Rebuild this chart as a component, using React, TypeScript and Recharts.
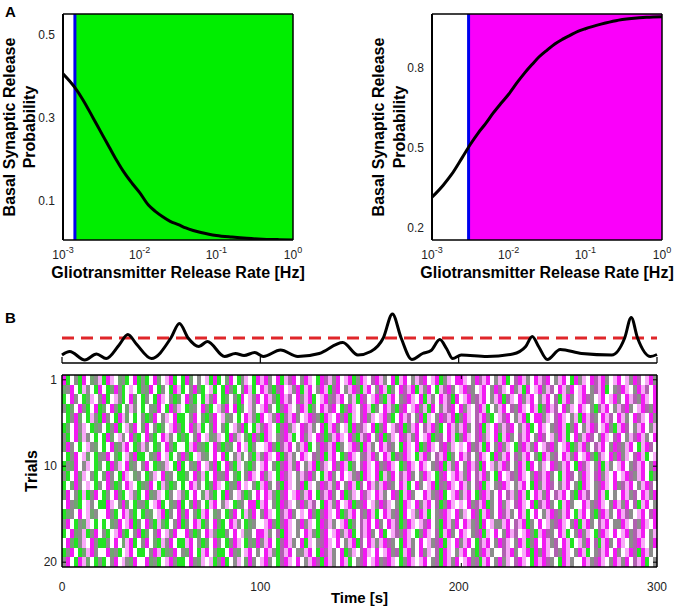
import React from 'react';
import {
  LineChart,
  Line,
  BarChart,
  Bar,
  Cell,
  XAxis,
  YAxis,
  ReferenceArea,
  ReferenceLine,
  Label,
} from 'recharts';

const FONT = '"Liberation Sans", Arial, Helvetica, sans-serif';

// ---- panel A : release probability vs gliotransmitter release rate
const rates = [
  0.001, 0.0014, 0.0018, 0.0025, 0.0032, 0.004, 0.005, 0.0063, 0.008, 0.01, 0.013, 0.016, 0.02,
  0.025, 0.032, 0.04, 0.05, 0.063, 0.08, 0.1, 0.16, 0.25, 0.4, 0.63, 1,
];
const depressProb = [
  0.406, 0.375, 0.345, 0.298, 0.262, 0.23, 0.198, 0.168, 0.142, 0.12, 0.09, 0.075, 0.062,
  0.051, 0.043, 0.035, 0.029, 0.024, 0.02, 0.017, 0.013, 0.01, 0.008, 0.007, 0.006,
];
const facilProb = [
  0.315, 0.36, 0.4, 0.465, 0.515, 0.555, 0.59, 0.63, 0.667, 0.7, 0.745, 0.778, 0.81,
  0.84, 0.866, 0.888, 0.905, 0.92, 0.935, 0.945, 0.962, 0.975, 0.983, 0.988, 0.99,
];
const depressThreshold = 0.00143;
const facilThreshold = 0.003;
const rateTicks = [0.001, 0.01, 0.1, 1];
const depressTicks = [0.1, 0.3, 0.5];
const facilTicks = [0.2, 0.5, 0.8];

// ---- panel B : population trace above the raster
const traceTime = [
  0, 3.9, 11.5, 17.4, 22.3, 28.8, 33.2, 37.5, 45.1, 54.9, 59.2, 63.6, 69, 73.3, 82, 87.4, 91.8,
  97.2, 101.5, 110.2, 118.9, 129.7, 141.6, 149.2, 155.7, 162, 166.6, 171, 176.4, 181.8, 186.1,
  190.5, 194, 197, 201.3, 214.3, 227.3, 233.8, 237.1, 240.3, 244.7, 251.2, 262, 277.2, 283.7,
  287, 290.2, 296.7, 300,
];
const traceValue = [
  0.16, 0.23, 0.06, 0.18, 0.09, 0.36, 0.57, 0.38, 0.09, 0.5, 0.79, 0.5, 0.33, 0.43, 0.13, 0.19, 0.15,
  0.21, 0.13, 0.26, 0.13, 0.19, 0.41, 0.16, 0.23, 0.5, 0.98, 0.5, 0.07, 0.19, 0.25,
  0.47, 0.28, 0.09, 0.16, 0.13, 0.18, 0.33, 0.53, 0.33, 0.07, 0.27, 0.19, 0.16, 0.5,
  0.91, 0.5, 0.13, 0.17,
];
const traceThreshold = 0.5;
const timeTicks = [0, 100, 200, 300];
const innerTimeTicks = [100, 200];
const trialTicks = [1, 10, 20];
const binSeconds = 2;

// one string per trial, one letter per 2 s bin
// g green, G grey-green, k grey, m magenta, p pink, d purple, w white
const rasterRows = [
  ['mgwkgmwGkp', 'gmpwGkgwmg', 'kgwmGwpmgw', 'gmGwkwpgmg', 'wGmwgkpwgm', 'pmkwmgpdmw', 'kmpwgmdpkm', 'wpmgkmpwdm', 'pkwmgpmwkp', 'dmwpmgkpwm', 'mpwkmdpmwk', 'pmgwdmpkwm', 'pdmwkpmwgm', 'kpwmdpmkwp', 'mwpkmdwpmk'],
  ['Gkmwgpkwgm', 'wgGmkgwpwg', 'kGmwgkwgmp', 'gwkmGgwpgw', 'gmkgwGmpgw', 'mpkgdmwpkm', 'gpmwkmpgdm', 'wkpmdgpmwk', 'mpgkwmdpmg', 'pkmwgpdmkw', 'pmdkwpmwkm', 'dpwmkpgmwp', 'mkpdwmpkmw', 'pmwkdpmgwk', 'dmpwkmpdwm'],
  ['gwmkwgGpwk', 'mgwpkgwmGw', 'gkwgmpwkgG', 'wmkgwgpkmw', 'gGwkgmwpkm', 'wmpkgmpdwm', 'kpmgwpmkdp', 'mwkpgmdwpm', 'kgpmwkdmpw', 'mgpkwmpdgm', 'wpmkdpmwkp', 'mgdpwmkpmw', 'kpmwdgpmkw', 'pmdkwpmwpm', 'kwmpdkmpwm'],
  ['kgGwmkgwmg', 'GwmkgwGpkw', 'gwkGmwgmkp', 'wgGkwmkgwp', 'kmwmgGwpkw', 'pmkwgdmpwk', 'mpgkwmpdmw', 'gkmpwdmpgk', 'wmpkgdmwpm', 'kpgmwkpdmw', 'mkpwdmpgwk', 'pmwdkmpwmp', 'gkmpdwmkpw', 'mpwkgdpmwk', 'pdmkwpmdkm'],
  ['wgkmGwgpkg', 'mkwgmpGwgw', 'kgGmwkpwmg', 'gwkmwGgkmw', 'pGkwgwmpkg', 'mwpkmgdpmk', 'wpmdkgmpwm', 'kmgpwdmkpw', 'pmkgwmpdwk', 'mgpwkmdpmg', 'kmpwdpmkgw', 'pdmwkpmgwm', 'mkpwdmpwkp', 'gmpdkwmpdw', 'mpkwmdpwmk'],
  ['gGwmkpwgGk', 'wgkmgwpkmw', 'GmwkgGwpmk', 'gwmkpgwGmw', 'kgwpkmgwgp', 'kmpwgdmkpw', 'mdpkwmgpmk', 'wpgmkdpwmg', 'kmwpdmgkpm', 'wdpmkgwmpk', 'pmkwdmgpwm', 'kpdmwkpmgw', 'mpwkdmpgkm', 'wkpmdwpmkg', 'pmdwkpmwkp'],
  ['kgwmGpkwgw', 'gmGwpkwmGg', 'wmkgwmpkwg', 'GgwkmwpGkp', 'wgmkpwGgmk', 'gmpwkdmpgw', 'mkpwmdgkpm', 'pwmkgpdmwk', 'mgkpwmdpkm', 'wpmgkdwmpg', 'kmpwdmkpwm', 'gpmkwdpmwk', 'mdwpkmpgwm', 'kpmdwkmpwd', 'mwkpdmpkwm'],
  ['GmkwgwpkGw', 'gwmGkpmwgk', 'pkwgGwmkgw', 'wgpmkGgwmk', 'gkGwmwpgkw', 'wpmkgdpmwk', 'pmgwkmdpmg', 'kwpmdgmpkw', 'mpdkwgmpwm', 'gkmpwdmkpw', 'pwmkdpgmwk', 'mkpwgdmpkm', 'wpdmkwpmgk', 'pmkwdpmwkm', 'dkpmwgpmdw'],
  ['wgkmwpGwgk', 'kmwGgwpkmg', 'gwGkmwpgwk', 'mkgwpkGwmw', 'mgwkpGwkgp', 'kmpwmgdpkw', 'mpwdkmgpmw', 'gkmpwkdpmk', 'wmpgdkmpwg', 'pmkwdpmgkw', 'mpdwkmpwgm', 'kpmwdkpmwk', 'gmpkdwmpkm', 'wpmkgdpwmk', 'mkpwdmpgwp'],
  ['gkGmwkpwgG', 'wgmkpwmGkw', 'kmwgGkpwgm', 'gwkGmwpkmg', 'wmkgpwGgkw', 'pmwkgdmpkm', 'wkpmgdpwmk', 'mpgkwdmpwm', 'kdmpwgkmpw', 'mpwkdmgpkm', 'wkmpdgmwpk', 'pmdwkmpgmw', 'kpwmdkpmwg', 'mdpwkmgpkw', 'pmwkdpmwkm'],
  ['kgwmGpwkgw', 'GmkwgmpwGk', 'wgkpwmGkwg', 'gGwmkpgwmk', 'kmwGgwkmpw', 'mkpwgmdpwk', 'pdmkwgpmkw', 'mwpkdgmpwm', 'gpkmwdpmkw', 'kmpwgdmwpm', 'pkmwdpmkwg', 'mwpdkmpwkm', 'dpmkwgpmdw', 'kmpwdmkpwm', 'wpmdkpmwgk'],
  ['gwGmkwpwgk', 'wmkgGwmpwg', 'GkmwgpkgGw', 'gwmpkwgGmp', 'wgkGmwpwkg', 'pmkwdgmpwk', 'mgpwkmdpkm', 'wkmpgdwmpk', 'pmdkwmpgwm', 'kwpmgdkmpw', 'mpkwdmgpwk', 'dmpwkpmwgm', 'kpmdwkpmwk', 'gmpwkdmpwm', 'kdpmwkpmdw'],
  ['Gmwkgpgkmw', 'gkwmGgwpkg', 'wmGkpwgkwp', 'kgwmwGpkgw', 'gmkwpkgGwm', 'wmpkgdmwpm', 'kpmwgdpmkw', 'mgkpwmdpwm', 'pkwmdgpmkw', 'wmpkdmgwpm', 'kpmwgdmpkw', 'mwdpkmpgwm', 'pkmwdpmwkg', 'mpdwkmpgwk', 'wmpkdwmpkm'],
  ['wmkGgwpkwg', 'gmpwkmGwgk', 'kgwpmgwGkm', 'gwGmkwgpmw', 'kpwgGkwmmg', 'pmwkgmdpwk', 'mkpdwgmpkm', 'wpmgkdmwpk', 'mdpwkgmpwm', 'kpmwdgkmpw', 'pwmkdpmgkw', 'mkpwdmpwmg', 'dpmkwgpmkw', 'wmpkdmpwkm', 'pkmwdgpmwk'],
  ['gGkwmwpGkw', 'wmkgwmpkgw', 'gkGwpmgkwm', 'GmwkgpmwGk', 'wgkmwgpkmw', 'kmpwgdpmkw', 'pwmkgdmpwm', 'gkpmwdkmpg', 'wmpkdgmwpk', 'mpgwkdmpwm', 'kpwmdgpmkw', 'mdpkwmpgwm', 'wkpmdkpmwg', 'pmwkgdmpkw', 'mpdkwpmwdm'],
  ['kmwgkGpwgw', 'gwGkmwpmgk', 'wmkgpGgwkm', 'gkwmpgkwmG', 'gwmpkwgGkw', 'wpmkgdmpwk', 'mkpwgmdpkw', 'pmgkwdpmwm', 'kwmpdgkmpw', 'pdmwkgmpkm', 'wmpkdgmwpk', 'kpmwdpmgkw', 'mwpkdmpwkm', 'gpmkwdpmwk', 'kmpwdkmpwm'],
  ['gwmGkpgkmw', 'kgwpmGgwkm', 'gGwkmwpkmw', 'wmkgGwmpkg', 'gkwmwpGkwm', 'mpkwdgmpwk', 'wmpkgdmwpm', 'kpmgwdpmkw', 'mgwpdkmpwg', 'kmpwdgpmkw', 'mpwkdmgpwm', 'wkmpdwpmkg', 'pmdkwmpgwk', 'mkpwgdmpwm', 'wpmkdpmwkp'],
  ['wmGgkpwmkg', 'gkwmwGpmgw', 'kmwGgpkmwg', 'gpmwkgGwmk', 'wgkmpwgkGm', 'kpmwgdmpkw', 'mgpwkdmpwm', 'wkpmgdwmpk', 'pmdkwgmpkw', 'mwpkdmgpwm', 'kpmwgdpmwk', 'mdpwkmpgkm', 'wmpkdwmpgw', 'pkmwdgpmkw', 'mpwkdmpwkm'],
  ['gkmwgGpmkw', 'wmGkgwpmwg', 'gwkmpgGkmw', 'kGmwgpmwkg', 'gwmkGwpmwk', 'wmpkgdpmwk', 'kpmwgmdpkw', 'mgkpwdmpwm', 'wpmkdgpmkw', 'mkpwdgmpwk', 'pmwkgdmpkw', 'wdpmkwpmgm', 'kmpwdkmpwk', 'mpgwkdpmwm', 'kwpmdgmpkw'],
  ['kmwgmpGwgk', 'gwkmwpkGmw', 'wmGkgwpmkg', 'gwmkGpwpgk', 'mgwkpwGmkw', 'pmkwgdmpwm', 'wkpmdgmpkw', 'mpgwkdmwpm', 'kdmpwgkmpw', 'pmwkdgmpkm', 'wpmkdgpmwk', 'mkpwdmpwgm', 'pmdkwgmpkw', 'wmpkdmpwkm', 'pkmwdpmgwk'],
].map((groups) => groups.join(''));

const palette: Record<string, string> = {
  g: '#22e422',
  G: '#6fa66f',
  k: '#8c8c8c',
  m: '#f21af2',
  p: '#f8a8f8',
  d: '#b060b0',
  w: '#ffffff',
};

const depressData = rates.map((r, i) => ({ rate: r, p: depressProb[i] }));
const facilData = rates.map((r, i) => ({ rate: r, p: facilProb[i] }));
const traceData = traceTime.map((t, i) => ({ t, v: traceValue[i] }));
const nBins = rasterRows[0].length;
const rasterData = Array.from({ length: nBins }, (_, j) => {
  const entry: Record<string, number> = { t: j * binSeconds + binSeconds / 2, base: 0.5 };
  rasterRows.forEach((_, i) => {
    entry[`r${i}`] = 1;
  });
  return entry;
});

const tickStyle = { fontSize: 12, fill: '#222', fontFamily: FONT };
const boldText = { fontFamily: FONT, fontWeight: 700, fill: '#000' } as const;
const frameLine = { stroke: '#000', strokeWidth: 1.5 };

// tick marks without labels
const NoLabel = () => null;

const PowTick = (props: any) => {
  const { x, y, payload } = props;
  const exp = Math.round(Math.log10(payload.value));
  return (
    <text x={x} y={y + 19} textAnchor="middle" fontSize={12} fill="#222" fontFamily={FONT}>
      <tspan>10</tspan>
      <tspan dy={-6} fontSize={9}>{exp}</tspan>
    </text>
  );
};

const rateLabel = (baseline: number) => (props: any) => {
  const vb = props.viewBox || {};
  const cx = vb.x + vb.width / 2;
  return (
    <text x={cx} y={baseline} textAnchor="middle" fontSize={16} {...boldText}>
      Gliotransmitter Release Rate [Hz]
    </text>
  );
};

const probLabel = (x1: number, x2: number) => (props: any) => {
  const vb = props.viewBox || {};
  const cy = vb.height ? vb.y + vb.height / 2 : 127;
  return (
    <g>
      <text transform={`translate(${x1},${cy}) rotate(-90)`} textAnchor="middle" fontSize={16} {...boldText}>
        Basal Synaptic Release
      </text>
      <text transform={`translate(${x2},${cy}) rotate(-90)`} textAnchor="middle" fontSize={16} {...boldText}>
        Probability
      </text>
    </g>
  );
};

const ProbPanel = ({ data, threshold, fill, domain, ticks, yWidth, width, labelX }: any) => (
  <LineChart
    width={width}
    height={290}
    data={data}
    margin={{ top: 14, right: width - yWidth - 230, bottom: 0, left: 0 }}
  >
    <XAxis
      dataKey="rate"
      type="number"
      scale="log"
      domain={[0.001, 1]}
      ticks={rateTicks}
      allowDataOverflow
      tickLine={false}
      tickSize={0}
      tickMargin={0}
      height={50}
      axisLine={frameLine}
      tick={<PowTick />}
    >
      <Label content={rateLabel(278)} />
    </XAxis>
    <XAxis
      xAxisId="top"
      orientation="top"
      mirror
      height={1}
      type="number"
      scale="log"
      domain={[0.001, 1]}
      ticks={rateTicks}
      allowDataOverflow
      tick={false}
      tickLine={false}
      axisLine={frameLine}
    />
    <YAxis
      type="number"
      domain={domain}
      ticks={ticks}
      allowDataOverflow
      width={yWidth}
      tickLine={false}
      tickSize={0}
      tickMargin={8}
      axisLine={{ stroke: '#000', strokeWidth: 2 }}
      tick={tickStyle}
      tickFormatter={(v: number) => v.toFixed(1)}
    >
      <Label content={probLabel(labelX[0], labelX[1])} />
    </YAxis>
    <YAxis
      yAxisId="right"
      orientation="right"
      mirror
      width={1}
      type="number"
      domain={domain}
      ticks={ticks}
      allowDataOverflow
      tick={false}
      tickLine={false}
      axisLine={frameLine}
    />
    <ReferenceArea x1={threshold} x2={1} y1={domain[0]} y2={domain[1]} fill={fill} fillOpacity={1} stroke="none" />
    <ReferenceLine x={threshold} stroke="#0000ee" strokeWidth={3} />
    <Line dataKey="p" type="monotone" stroke="#000" strokeWidth={3} dot={false} isAnimationActive={false} />
  </LineChart>
);

const TraceChart = () => (
  <LineChart width={679} height={70} data={traceData} margin={{ top: 13, right: 22, bottom: 7, left: 62 }}>
    <XAxis
      dataKey="t"
      type="number"
      domain={[0, 300]}
      ticks={timeTicks}
      mirror
      height={1}
      tick={<NoLabel />}
      tickSize={6}
      tickLine={{ stroke: '#000', strokeWidth: 1.2 }}
      axisLine={frameLine}
    />
    <YAxis hide type="number" domain={[0, 1]} />
    <ReferenceLine y={traceThreshold} stroke="#e0262a" strokeWidth={3} strokeDasharray="12 7" />
    <Line dataKey="v" type="monotone" stroke="#000" strokeWidth={3} dot={false} isAnimationActive={false} />
  </LineChart>
);

const timeLabel = (props: any) => {
  const vb = props.viewBox || {};
  return (
    <text x={vb.x + vb.width / 2} y={233} textAnchor="middle" fontSize={15} {...boldText}>
      Time [s]
    </text>
  );
};

const trialsLabel = (props: any) => {
  const vb = props.viewBox || {};
  const cy = vb.height ? vb.y + vb.height / 2 : 101;
  return (
    <text transform={`translate(37,${cy}) rotate(-90)`} textAnchor="middle" fontSize={16} {...boldText}>
      Trials
    </text>
  );
};

const innerX = (id: string, orientation: 'top' | 'bottom') => (
  <XAxis
    xAxisId={id}
    orientation={orientation}
    mirror
    height={1}
    type="number"
    domain={[0, 300]}
    allowDataOverflow
    ticks={innerTimeTicks}
    tick={<NoLabel />}
    tickSize={4}
    tickLine={{ stroke: '#000' }}
    axisLine={frameLine}
  />
);

const innerY = (id: string, orientation: 'left' | 'right') => (
  <YAxis
    yAxisId={id}
    orientation={orientation}
    mirror
    width={1}
    type="number"
    domain={[0.5, 20.5]}
    reversed
    allowDataOverflow
    ticks={trialTicks}
    tick={<NoLabel />}
    tickSize={4}
    tickLine={{ stroke: '#000' }}
    axisLine={frameLine}
  />
);

const RasterChart = () => (
  <BarChart
    width={679}
    height={241}
    data={rasterData}
    margin={{ top: 5, right: 22, bottom: 0, left: 0 }}
    barCategoryGap={0}
    barGap={0}
  >
    <XAxis
      dataKey="t"
      type="number"
      domain={[0, 300]}
      ticks={timeTicks}
      tickLine={false}
      tickSize={0}
      tickMargin={15}
      height={44}
      axisLine={false}
      tick={tickStyle}
    >
      <Label content={timeLabel} />
    </XAxis>
    <YAxis
      type="number"
      domain={[0.5, 20.5]}
      reversed
      allowDataOverflow
      ticks={trialTicks}
      width={62}
      tickLine={false}
      tickSize={0}
      tickMargin={5}
      axisLine={false}
      tick={tickStyle}
    >
      <Label content={trialsLabel} />
    </YAxis>
    {innerX('top', 'top')}
    {innerX('bottomIn', 'bottom')}
    {innerY('leftIn', 'left')}
    {innerY('rightIn', 'right')}
    <Bar dataKey="base" stackId="s" fill="none" isAnimationActive={false} />
    {rasterRows.map((row, i) => (
      <Bar key={i} dataKey={`r${i}`} stackId="s" isAnimationActive={false}>
        {row.split('').map((c, j) => (
          <Cell key={j} fill={palette[c] || '#ffffff'} />
        ))}
      </Bar>
    ))}
  </BarChart>
);

const App = () => (
  <div
    style={{
      position: 'absolute',
      left: 0,
      top: 0,
      width: 679,
      height: 611,
      background: '#fff',
      fontFamily: FONT,
    }}
  >
    <style>{`.raster path.recharts-rectangle { shape-rendering: crispEdges; }`}</style>
    <div style={{ position: 'absolute', left: 0, top: 0 }}>
      <ProbPanel
        data={depressData}
        threshold={depressThreshold}
        fill="#00ee00"
        domain={[0.006, 0.55]}
        ticks={depressTicks}
        yWidth={63}
        width={320}
        labelX={[15, 34.5]}
      />
    </div>
    <div style={{ position: 'absolute', left: 340, top: 0 }}>
      <ProbPanel
        data={facilData}
        threshold={facilThreshold}
        fill="#fa00fa"
        domain={[0.155, 1.0]}
        ticks={facilTicks}
        yWidth={92}
        width={339}
        labelX={[44, 64.5]}
      />
    </div>
    <div style={{ position: 'absolute', left: 5, top: 3, fontSize: 15, fontWeight: 700 }}>A</div>
    <div style={{ position: 'absolute', left: 5, top: 309, fontSize: 15, fontWeight: 700 }}>B</div>
    <div style={{ position: 'absolute', left: 0, top: 300 }}>
      <TraceChart />
    </div>
    <div className="raster" style={{ position: 'absolute', left: 0, top: 370 }}>
      <RasterChart />
    </div>
  </div>
);

export default App;
